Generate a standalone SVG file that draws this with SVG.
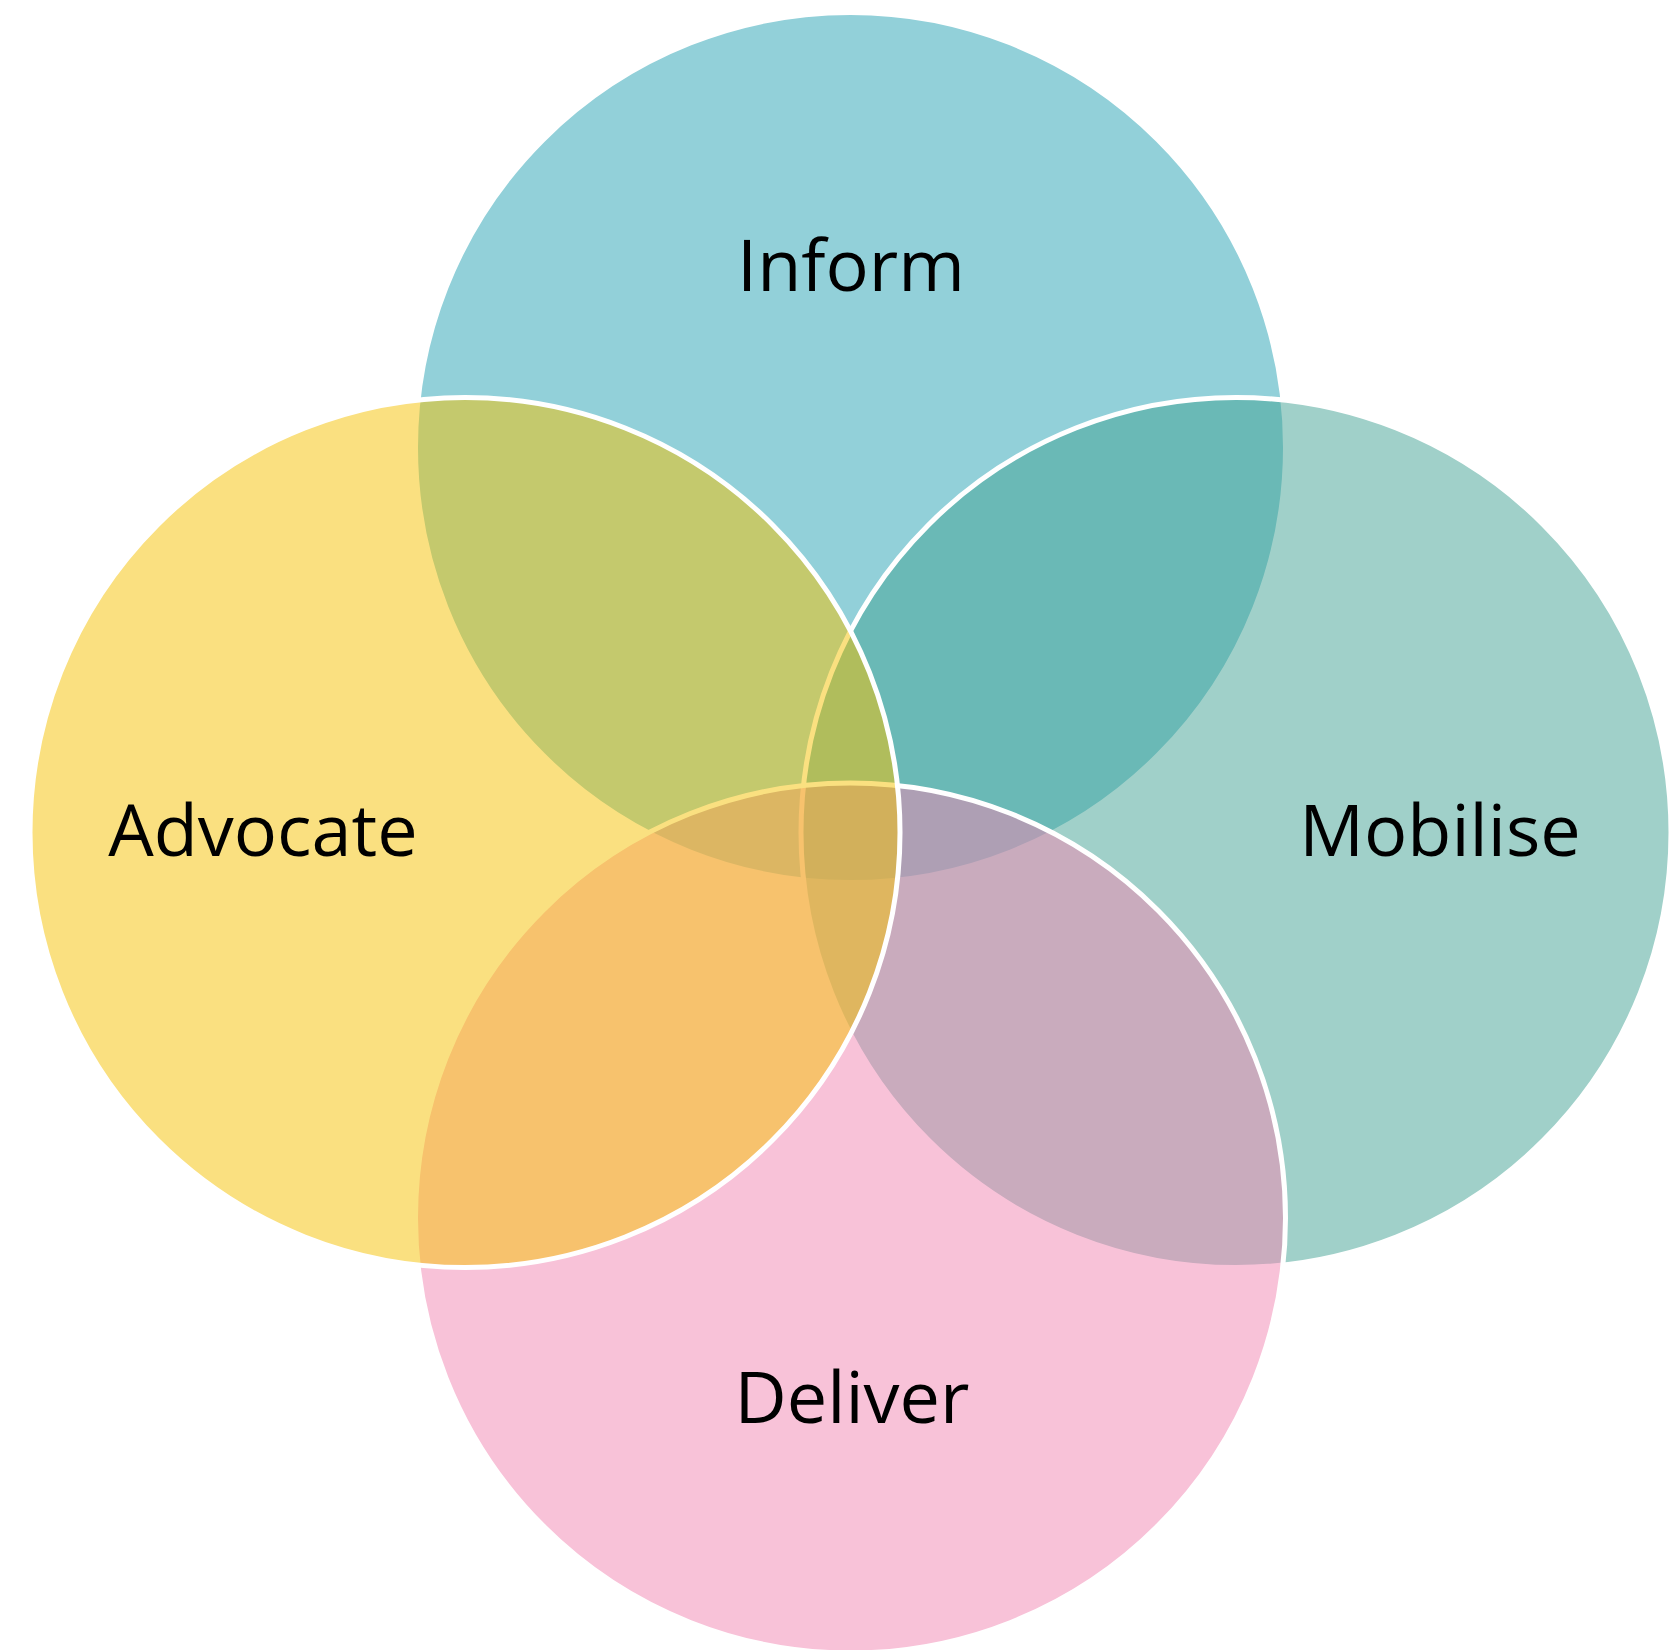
<svg xmlns="http://www.w3.org/2000/svg" width="1677" height="1650" viewBox="0 0 1677 1650">
<style>
.c{fill-opacity:0.5;stroke:#ffffff;stroke-width:5}
.t{font-family:"Open Sans","Noto Sans","DejaVu Sans",sans-serif;font-size:72px;fill:#000000;text-anchor:middle}
</style>
<rect width="1677" height="1650" fill="#ffffff"/>
<g id="inform"><circle class="c" cx="850.5" cy="447.5" r="435" fill="#25A1B3"/></g>
<g id="mobilise"><circle class="c" cx="1236" cy="832.5" r="435" fill="#41A193"/></g>
<g id="deliver"><circle class="c" cx="850.5" cy="1218" r="435" fill="#F185B1"/></g>
<g id="advocate"><circle class="c" cx="465" cy="832.5" r="435" fill="#F5C101"/></g>
<g id="labels">
<text class="t" x="851" y="291">Inform</text>
<text class="t" x="263" y="856">Advocate</text>
<text class="t" x="1440" y="856">Mobilise</text>
<text class="t" x="852" y="1423">Deliver</text>
</g>
<g id="connectors"/>
</svg>
